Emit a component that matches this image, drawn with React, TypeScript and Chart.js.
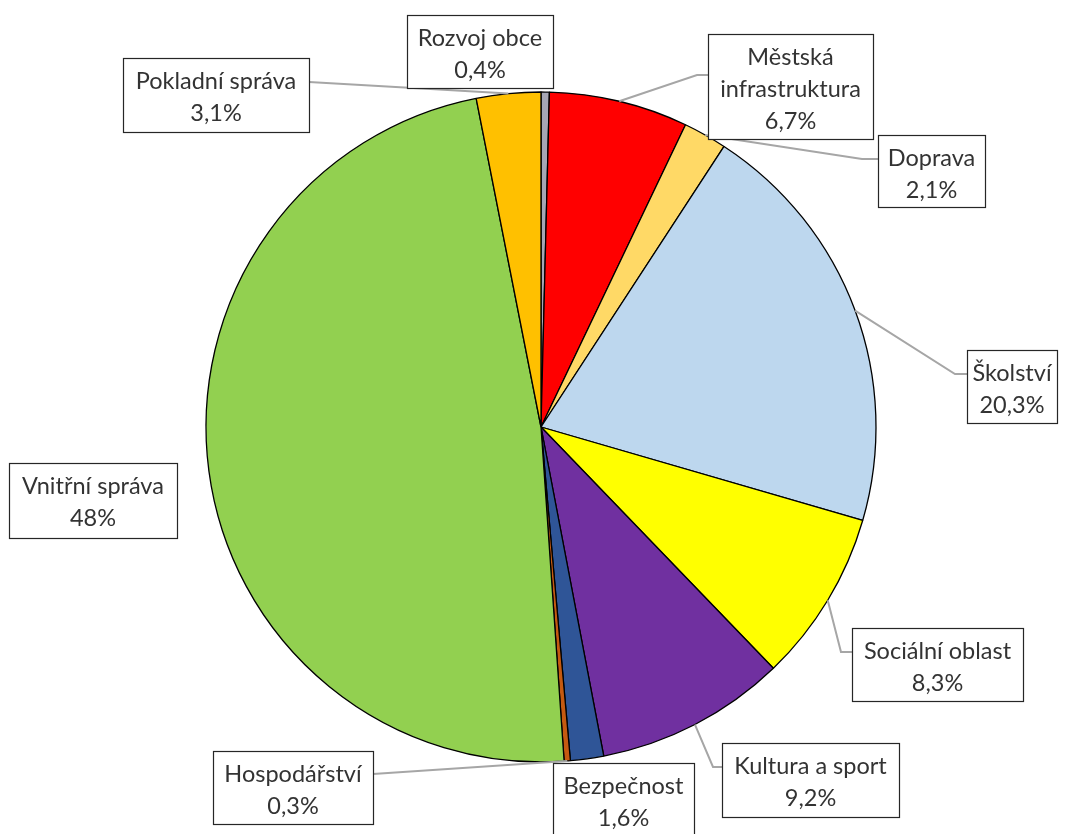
import React, { useEffect, useRef } from 'react';
import { Chart, registerables } from 'chart.js';

Chart.register(...registerables);

const categories = [
  'Rozvoj obce',
  'Městská infrastruktura',
  'Doprava',
  'Školství',
  'Sociální oblast',
  'Kultura a sport',
  'Bezpečnost',
  'Hospodářství',
  'Vnitřní správa',
  'Pokladní správa',
];
const shares = [0.4, 6.7, 2.1, 20.3, 8.3, 9.2, 1.6, 0.3, 48, 3.1];
const sliceColors = [
  '#A6A6B4', '#FF0000', '#FFD966', '#BDD7EE', '#FFFF00',
  '#7030A0', '#2F5597', '#C55A11', '#92D050', '#FFC000',
];

type Callout = {
  x: number; y: number; w: number; h: number;
  side: 'left' | 'right' | 'none'; lineDy: number; elbow: number; wrap?: boolean;
};
// label box layout (pixels on the canvas)
const callouts: Callout[] = [
  { x: 407, y: 15, w: 146, h: 73, side: 'none', lineDy: 0, elbow: 0 },
  { x: 708, y: 34, w: 165, h: 105, side: 'left', lineDy: 41, elbow: 11, wrap: true },
  { x: 878, y: 135, w: 107, h: 72, side: 'left', lineDy: 24, elbow: 16 },
  { x: 967, y: 350, w: 90, h: 73, side: 'left', lineDy: 24, elbow: 12 },
  { x: 852, y: 628, w: 171, h: 73, side: 'left', lineDy: 24, elbow: 11 },
  { x: 722, y: 743, w: 177, h: 74, side: 'left', lineDy: 24, elbow: 9 },
  { x: 553, y: 763, w: 141, h: 73, side: 'none', lineDy: 0, elbow: 0 },
  { x: 213, y: 751, w: 160, h: 73, side: 'right', lineDy: 23, elbow: 0 },
  { x: 9, y: 463, w: 168, h: 75, side: 'none', lineDy: 0, elbow: 0 },
  { x: 123, y: 58, w: 186, h: 74, side: 'right', lineDy: 24, elbow: 0 },
];

const fmt = (v: number) => String(v).replace('.', ',') + '%';

const calloutPlugin = {
  id: 'callouts',
  afterDraw(chart: any) {
    const ctx: CanvasRenderingContext2D = chart.ctx;
    const meta = chart.getDatasetMeta(0);
    ctx.save();
    // leader lines
    meta.data.forEach((arc: any, i: number) => {
      const c = callouts[i];
      if (!c || c.side === 'none') return;
      const p = arc.getProps(['x', 'y', 'startAngle', 'endAngle', 'outerRadius'], true);
      const mid = (p.startAngle + p.endAngle) / 2;
      const ax = p.x + Math.cos(mid) * p.outerRadius;
      const ay = p.y + Math.sin(mid) * p.outerRadius;
      const bx = c.side === 'left' ? c.x : c.x + c.w;
      const by = c.y + c.lineDy;
      const ex = c.side === 'left' ? bx - c.elbow : bx + c.elbow;
      ctx.beginPath();
      ctx.strokeStyle = '#A6A6A6';
      ctx.lineWidth = 2;
      ctx.moveTo(ax, ay);
      ctx.lineTo(ex, by);
      ctx.lineTo(bx, by);
      ctx.stroke();
    });
    // boxes and text
    callouts.forEach((c, i) => {
      ctx.fillStyle = '#FFFFFF';
      ctx.fillRect(c.x, c.y, c.w, c.h);
      ctx.strokeStyle = '#262626';
      ctx.lineWidth = 1.2;
      ctx.strokeRect(c.x + 0.5, c.y + 0.5, c.w, c.h);
      const lines = c.wrap ? categories[i].split(' ') : [categories[i]];
      lines.push(fmt(shares[i]));
      ctx.fillStyle = '#333333';
      ctx.font = '23.5px Lato, "Open Sans", sans-serif';
      ctx.textAlign = 'center';
      ctx.textBaseline = 'alphabetic';
      lines.forEach((t, k) => {
        ctx.fillText(t, c.x + c.w / 2, c.y + 31 + k * 32);
      });
    });
    ctx.restore();
  },
};

export default function App() {
  const ref = useRef<HTMLCanvasElement>(null);
  useEffect(() => {
    if (!ref.current) return;
    const chart = new Chart(ref.current, {
      type: 'pie',
      data: {
        labels: categories,
        datasets: [
          {
            data: shares,
            backgroundColor: sliceColors,
            borderColor: '#000000',
            borderWidth: 1.3,
          },
        ],
      },
      options: {
        responsive: false,
        animation: false,
        devicePixelRatio: 1,
        events: [],
        radius: 335,
        layout: { padding: { left: 16, right: 0, top: 20, bottom: 0 } },
        plugins: {
          legend: { display: false },
          tooltip: { enabled: false },
          title: { display: false },
        },
      } as any,
      plugins: [calloutPlugin],
    });
    return () => chart.destroy();
  }, []);
  return (
    <div style={{ position: 'fixed', left: 0, top: 0, width: 1066, height: 834, background: '#fff' }}>
      <canvas ref={ref} width={1066} height={834} style={{ display: 'block' }} />
    </div>
  );
}
